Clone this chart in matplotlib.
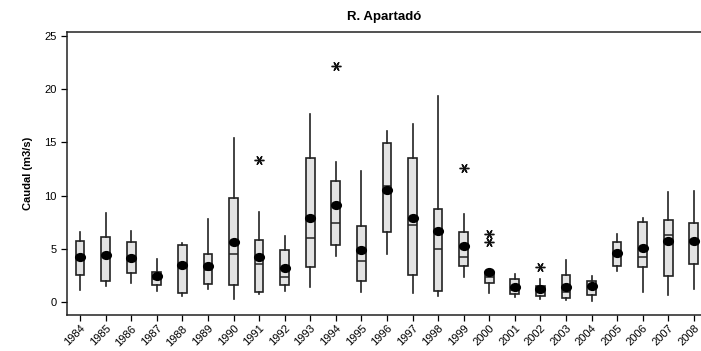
import matplotlib
matplotlib.use("Agg")
import matplotlib.pyplot as plt
from matplotlib.path import Path
from matplotlib.transforms import Affine2D

plt.rcParams['font.family'] = ['Liberation Sans', 'DejaVu Sans']

years = [str(y) for y in range(1984, 2009)]

whisker_low = [1.12, 1.56, 1.81, 1.03, 0.56, 1.28, 0.31, 0.78, 1.06, 1.46, 4.31, 1.00, 4.50,
               0.90, 0.56, 2.40, 0.84, 0.47, 0.28, 0.22, 0.12, 2.97, 0.99, 0.72, 1.22]
q1 = [2.53, 2.00, 2.72, 1.62, 0.90, 1.75, 1.62, 0.99, 1.65, 3.28, 5.40, 2.00, 6.62,
      2.53, 1.09, 3.38, 1.81, 0.81, 0.62, 0.37, 0.72, 3.38, 3.28, 2.44, 3.56]
median = [4.20, 4.40, 4.10, 2.19, 3.40, 3.03, 4.50, 3.56, 2.40, 6.06, 7.47, 3.87, 10.94,
          7.25, 5.03, 4.22, 2.34, 1.15, 1.06, 0.99, 1.40, 4.70, 4.22, 6.31, 5.80]
q3 = [5.72, 6.16, 5.63, 2.84, 5.40, 4.50, 9.81, 5.87, 4.93, 13.51, 11.41, 7.16, 14.97,
      13.51, 8.72, 6.62, 2.65, 2.19, 1.56, 2.53, 2.00, 5.69, 7.50, 7.72, 7.47]
whisker_high = [6.60, 8.38, 6.69, 4.09, 5.59, 7.78, 15.44, 8.44, 6.19, 17.64, 13.13, 12.32, 16.07,
                16.73, 19.38, 8.25, 2.90, 2.62, 2.16, 3.97, 2.50, 6.38, 7.88, 10.35, 10.47]
mean = [4.22, 4.41, 4.13, 2.47, 3.47, 3.38, 5.69, 4.22, 3.19, 7.88, 9.16, 4.93, 10.56,
        7.88, 6.69, 5.31, 2.81, 1.44, 1.25, 1.44, 1.56, 4.66, 5.12, 5.75, 5.75]
outliers = [[], [], [], [], [], [], [], [13.35], [], [], [22.2], [], [],
            [], [], [12.6], [6.44, 5.69], [], [3.28], [], [], [], [], [], []]

stats = []
for i, yr in enumerate(years):
    stats.append(dict(label=yr, whislo=whisker_low[i], q1=q1[i], med=median[i],
                      q3=q3[i], whishi=whisker_high[i], fliers=outliers[i]))

# slightly flattened dot for the mean
ellipse = Path.unit_circle().transformed(Affine2D().scale(1.0, 0.8))

fig = plt.figure(figsize=(7.01, 3.51), dpi=100)
ax = fig.add_axes([0.096, 0.1026, 0.904, 0.8062])

positions = list(range(len(years)))
edge = '#222222'
ax.bxp(stats, positions=positions, widths=0.34, patch_artist=True, showcaps=False,
       boxprops=dict(facecolor='#e3e3e3', edgecolor=edge, linewidth=1.2),
       medianprops=dict(color=edge, linewidth=1.1),
       whiskerprops=dict(color=edge, linewidth=1.2),
       flierprops=dict(marker=(6, 2, 90), markersize=7, markeredgecolor='#111111',
                       markeredgewidth=1.0, linestyle='none'))

ax.plot(positions, mean, linestyle='none', marker=ellipse, markersize=7,
        markerfacecolor='black', markeredgecolor='black', zorder=5)

ax.set_xlim(-0.5, 24.28)
ax.set_ylim(-1.19, 25.36)
ax.set_yticks([0, 5, 10, 15, 20, 25])
ax.set_xticks(positions)
ax.set_xticklabels(years, rotation=45, ha='right', rotation_mode='anchor', fontsize=8)
ax.tick_params(axis='y', labelsize=8, length=4, width=0.9)
ax.tick_params(axis='x', length=4, width=0.9, pad=2)

for s in ax.spines.values():
    s.set_linewidth(1.1)
    s.set_color(edge)
ax.spines['right'].set_visible(False)

ax.set_title('R. Apartadó', fontsize=9.5, fontweight='bold', pad=9)
ax.set_ylabel('Caudal (m3/s)', fontsize=8, fontweight='bold', labelpad=8)

fig.savefig('out.png', dpi=100)
